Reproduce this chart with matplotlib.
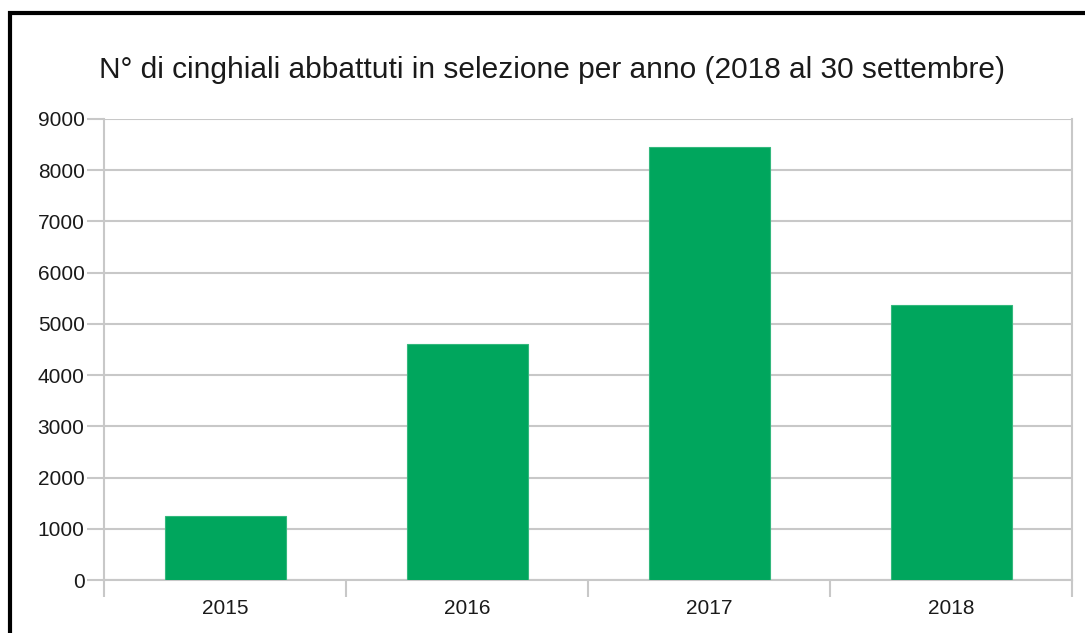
import matplotlib.pyplot as plt
from matplotlib.patches import Rectangle

plt.rcParams['font.family'] = ['Liberation Sans', 'DejaVu Sans']

years = ['2015', '2016', '2017', '2018']
abbattuti = [1250, 4600, 8450, 5360]
y_ticks = list(range(0, 10000, 1000))
title = 'N° di cinghiali abbattuti in selezione per anno (2018 al 30 settembre)'

fig = plt.figure(figsize=(10.85, 6.33), dpi=100)
# black frame around the chart (runs off the right and bottom edges)
fig.patches.append(Rectangle((10 / 1085, -0.05), 1.1, 1 - 13 / 633 + 0.05,
                             transform=fig.transFigure, fill=False,
                             edgecolor='black', linewidth=3))

ax = fig.add_axes([104 / 1085, 1 - 580 / 633, (1072 - 104) / 1085, (580 - 119) / 633])

x = range(len(years))
ax.bar(x, abbattuti, width=0.5, color='#00a65d', edgecolor='#33b87d', linewidth=0.8, zorder=3)

ax.set_xlim(-0.5, len(years) - 0.5)
ax.set_ylim(0, 9000)
ax.set_yticks(y_ticks)
ax.set_yticklabels([str(v) for v in y_ticks])
ax.set_xticks(list(x))
ax.set_xticklabels(years)
# category separators as minor ticks
ax.set_xticks([i - 0.5 for i in range(len(years) + 1)], minor=True)

ax.grid(axis='y', color='#c8c8c8', linewidth=1.5, zorder=0)
for side in ['left', 'right', 'bottom']:
    ax.spines[side].set_color('#c8c8c8')
    ax.spines[side].set_linewidth(1.5)
ax.spines['top'].set_visible(False)

ax.tick_params(axis='y', length=12, width=1.5, color='#c8c8c8', labelsize=15, pad=2)
ax.tick_params(axis='x', which='major', length=0, labelsize=15, pad=14)
ax.tick_params(axis='x', which='minor', length=12, width=1.5, color='#c8c8c8')
for lab in ax.get_xticklabels() + ax.get_yticklabels():
    lab.set_color('#1a1a1a')

fig.text(552 / 1085, 1 - 70 / 633, title, ha='center', va='center', fontsize=21.5, color='#1a1a1a')

fig.savefig('out.png', dpi=100)
